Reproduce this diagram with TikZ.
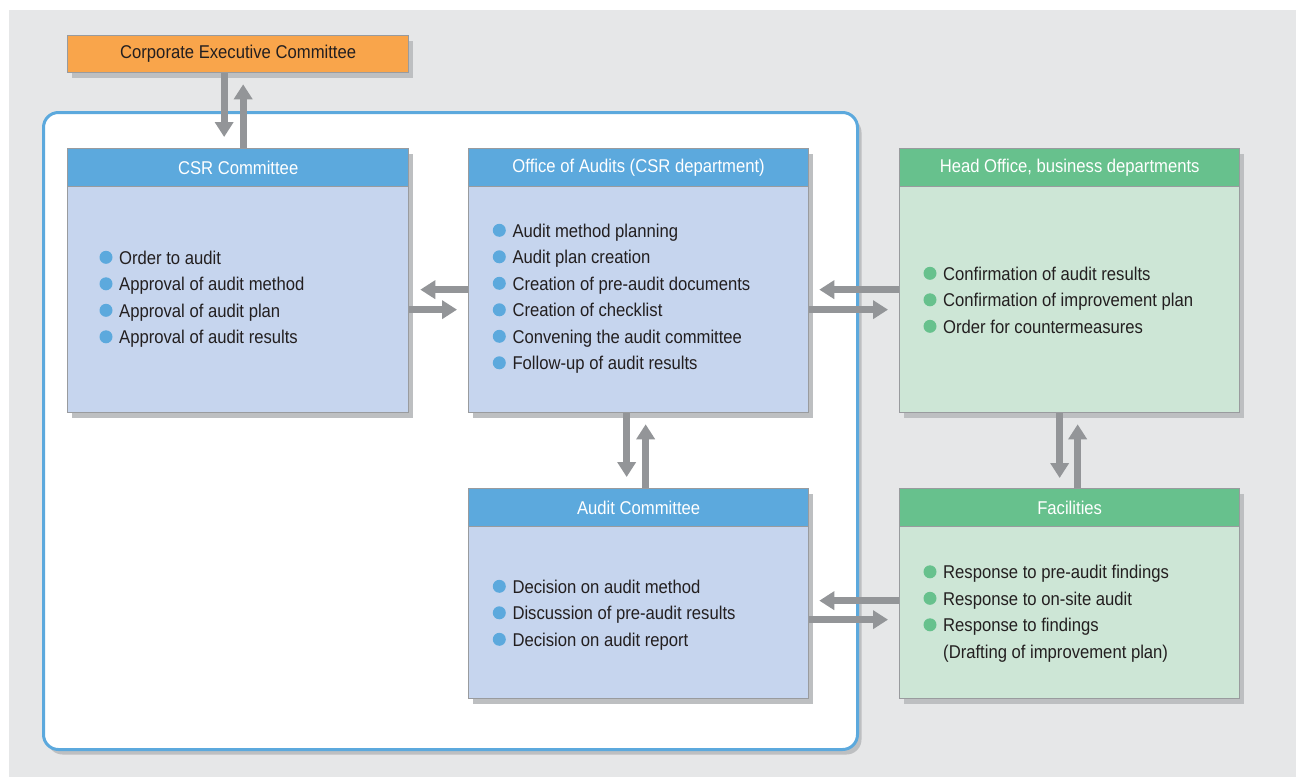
\documentclass[tikz,border=0pt]{standalone}
\usepackage{fontspec}
\setmainfont{Liberation Sans}[FakeStretch=0.9]
\usetikzlibrary{arrows.meta,shadows}
\definecolor{bgc}{HTML}{E6E7E8}
\definecolor{orangec}{HTML}{F9A54B}
\definecolor{bluehead}{HTML}{5CA9DD}
\definecolor{bluebody}{HTML}{C6D5EE}
\definecolor{greenhead}{HTML}{67C18D}
\definecolor{greenbody}{HTML}{CDE6D6}
\definecolor{arrowc}{HTML}{939598}
\definecolor{borderc}{HTML}{999B9E}
\definecolor{shadowc}{HTML}{BDBFC1}
\definecolor{textc}{HTML}{231F20}
\tikzset{
  shad/.style={drop shadow={shadow xshift=4pt,shadow yshift=-5pt,fill=shadowc,opacity=1}},
  boxbody/.style={draw=borderc,line width=1.3pt,anchor=north west,inner sep=0pt,shad},
  boxhead/.style={draw=borderc,line width=1.3pt,anchor=north west,inner sep=0pt,
    minimum height=38pt,text=white,font=\fontsize{18.5}{22}\selectfont},
  txt/.style={anchor=base west,inner sep=0pt,text=textc,font=\fontsize{18.5}{22}\selectfont},
  arr/.style={draw=arrowc,line width=7pt,-{Triangle[length=15pt,width=18pt]}},
}
\newcommand\li[5]{\fill[#2] (#3,#4-6.7) circle (6.5); \node[txt] (#1) at (#3+13,#4) {#5};}
\begin{document}
\begin{tikzpicture}[x=1pt,y=-1pt]
\useasboundingbox (0,0) rectangle (1296,777);
\fill[white] (0,0) rectangle (1296,777);
\fill[bgc] (9,10) rectangle (1296,777);

% frame
\node[draw=bluehead,line width=3pt,fill=white,rounded corners=15pt,anchor=north west,
  minimum width=814pt,minimum height=637pt,inner sep=0pt,shad] (frame) at (42,111) {};

% Corporate Executive Committee
\node[boxbody,fill=orangec,minimum width=341pt,minimum height=37pt,text=textc,
  font=\fontsize{18.5}{22}\selectfont] (cec) at (67,35) {Corporate Executive Committee};

% CSR Committee
\node[boxbody,fill=bluebody,minimum width=341pt,minimum height=264pt] (csr) at (67,148) {};
\node[boxhead,fill=bluehead,minimum width=341pt] (csrh) at (67,148) {CSR Committee};
\li{c1}{bluehead}{106}{264}{Order to audit}
\li{c2}{bluehead}{106}{290.5}{Approval of audit method}
\li{c3}{bluehead}{106}{317}{Approval of audit plan}
\li{c4}{bluehead}{106}{343.5}{Approval of audit results}

% Office of Audits
\node[boxbody,fill=bluebody,minimum width=340pt,minimum height=264pt] (off) at (468,148) {};
\node[boxhead,fill=bluehead,minimum width=340pt] (offh) at (468,148) {Office of Audits (CSR department)};
\li{o1}{bluehead}{499.3}{237}{Audit method planning}
\li{o2}{bluehead}{499.3}{263.5}{Audit plan creation}
\li{o3}{bluehead}{499.3}{290}{Creation of pre-audit documents}
\li{o4}{bluehead}{499.3}{316.5}{Creation of checklist}
\li{o5}{bluehead}{499.3}{343}{Convening the audit committee}
\li{o6}{bluehead}{499.3}{369.5}{Follow-up of audit results}

% Head Office
\node[boxbody,fill=greenbody,minimum width=340pt,minimum height=264pt] (hq) at (899,148) {};
\node[boxhead,fill=greenhead,minimum width=340pt] (hqh) at (899,148) {Head Office, business departments};
\li{h1}{greenhead}{930}{280}{Confirmation of audit results}
\li{h2}{greenhead}{930}{306.5}{Confirmation of improvement plan}
\li{h3}{greenhead}{930}{333}{Order for countermeasures}

% Audit Committee
\node[boxbody,fill=bluebody,minimum width=340pt,minimum height=210pt] (ac) at (468,488) {};
\node[boxhead,fill=bluehead,minimum width=340pt] (ach) at (468,488) {Audit Committee};
\li{a1}{bluehead}{499.3}{593}{Decision on audit method}
\li{a2}{bluehead}{499.3}{619.5}{Discussion of pre-audit results}
\li{a3}{bluehead}{499.3}{646}{Decision on audit report}

% Facilities
\node[boxbody,fill=greenbody,minimum width=340pt,minimum height=210pt] (fac) at (899,488) {};
\node[boxhead,fill=greenhead,minimum width=340pt] (fach) at (899,488) {Facilities};
\li{f1}{greenhead}{930}{578.5}{Response to pre-audit findings}
\li{f2}{greenhead}{930}{605}{Response to on-site audit}
\li{f3}{greenhead}{930}{631.5}{Response to findings}
\node[txt] (f4) at (943,658) {(Drafting of improvement plan)};

% arrows: Corporate <-> CSR
\draw[arr,shorten >=11pt] ([xshift=-14pt]cec.south) -- ([xshift=-14pt]csrh.north);
\draw[arr,shorten >=11pt] ([xshift=5pt]csrh.north) -- ([xshift=5pt]cec.south);
% CSR <-> Office
\draw[arr,shorten >=11pt] ([yshift=-9pt]off.west) -- ([yshift=-9pt]csr.east);
\draw[arr,shorten >=11pt] ([yshift=-29pt]csr.east) -- ([yshift=-29pt]off.west);
% Office <-> Head Office
\draw[arr,shorten >=10pt] ([yshift=-9pt]hq.west) -- ([yshift=-9pt]off.east);
\draw[arr,shorten >=11pt] ([yshift=-29pt]off.east) -- ([yshift=-29pt]hq.west);
% Office <-> Audit Committee
\draw[arr,shorten >=11pt] ([xshift=-12pt]off.south) -- ([xshift=-12pt]ach.north);
\draw[arr,shorten >=11pt] ([xshift=7pt]ach.north) -- ([xshift=7pt]off.south);
% Head Office <-> Facilities
\draw[arr,shorten >=10pt] ([xshift=-10pt]hq.south) -- ([xshift=-10pt]fach.north);
\draw[arr,shorten >=11pt] ([xshift=8pt]fach.north) -- ([xshift=8pt]hq.south);
% Audit Committee <-> Facilities
\draw[arr,shorten >=10pt] ([yshift=-7pt]fac.west) -- ([yshift=-7pt]ac.east);
\draw[arr,shorten >=11pt] ([yshift=-26pt]ac.east) -- ([yshift=-26pt]fac.west);
\end{tikzpicture}
\end{document}
